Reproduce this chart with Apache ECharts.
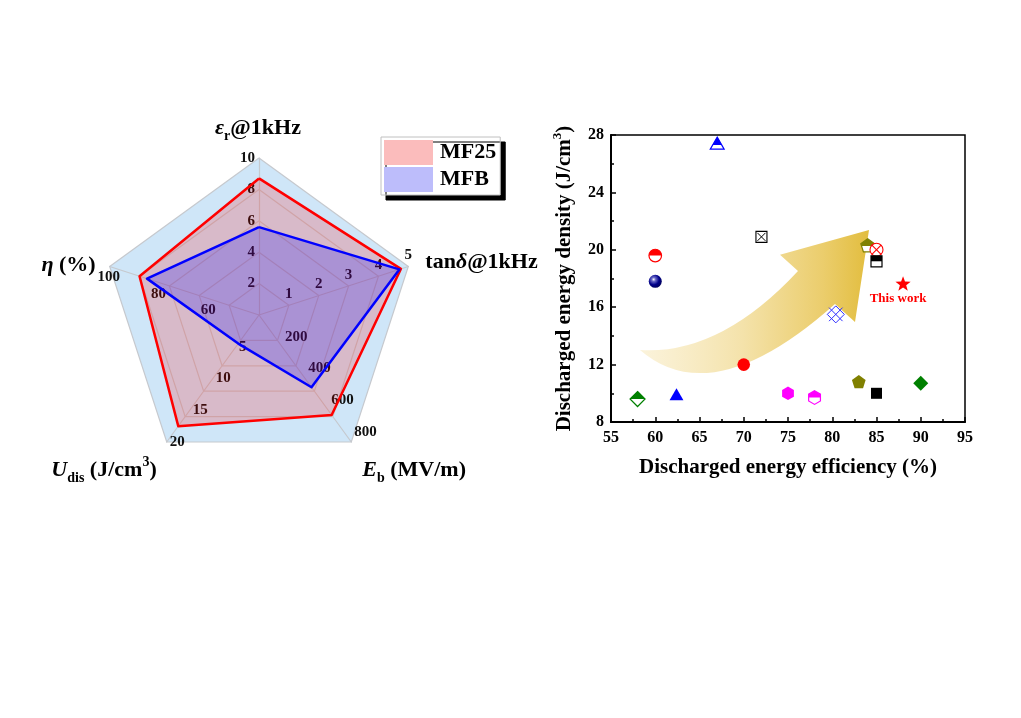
<!DOCTYPE html>
<html>
<head>
<meta charset="utf-8">
<script src="https://cdn.jsdelivr.net/npm/echarts@6/dist/echarts.min.js"></script>
<style>html,body{margin:0;padding:0;background:#fff}#c{width:1021px;height:718px}</style>
</head>
<body>
<div id="c"></div>
<script>
// ===================== DATA =====================
// Radar chart (indicators listed counter-clockwise from the top)
const radarIndicatorNames = ['εr@1kHz', 'η (%)', 'Udis (J/cm3)', 'Eb (MV/m)', 'tanδ@1kHz'];
const radarMin = [0, 40, 0, 0, 0];
const radarMax = [10, 100, 20, 800, 5];
const radarTickLabels = [
  [2, 4, 6, 8, 10],
  [60, 80, 100],
  [5, 10, 15, 20],
  [200, 400, 600, 800],
  [1, 2, 3, 4, 5]
];
const radarSeriesNames = ['MF25', 'MFB'];
const mf25Values = [8.7, 88, 17.5, 630, 4.75];
const mfbValues = [5.6, 85, 4.5, 455, 4.7];

// Scatter chart
const efficiency = [67, 72, 60, 60, 70, 58, 62.4, 75, 78, 83, 85, 90, 80.4, 84, 85, 85, 88];
const density = [27.4, 20.9, 19.6, 17.8, 12.0, 9.6, 9.9, 10.0, 9.7, 10.8, 10.0, 10.7, 15.5, 20.3, 20.0, 19.2, 17.6];
const pointLabels = ['', '', '', '', '', '', '', '', '', '', '', '', '', '', '', '', 'This work'];
const xAxisRange = [55, 95, 5];
const yAxisRange = [8, 28, 4];

// ===================== STYLES / LAYOUT =====================
const FONT = '"Liberation Serif","Times New Roman",serif';
const markerStyles = [
  {shape: 'halfTriangle', color: '#0000ff'},
  {shape: 'squareX', color: '#000000'},
  {shape: 'halfCircle', color: '#ff0000'},
  {shape: 'sphere', color: '#000080'},
  {shape: 'circle', color: '#ff0000'},
  {shape: 'halfDiamond', color: '#008000'},
  {shape: 'triangle', color: '#0000ff'},
  {shape: 'hexagon', color: '#ff00ff'},
  {shape: 'halfHexagon', color: '#ff00ff'},
  {shape: 'pentagon', color: '#808000'},
  {shape: 'square', color: '#000000'},
  {shape: 'diamond', color: '#008000'},
  {shape: 'hatchDiamond', color: '#3030ff'},
  {shape: 'halfPentagon', color: '#808000'},
  {shape: 'circleX', color: '#ff0000'},
  {shape: 'halfSquare', color: '#000000'},
  {shape: 'star', color: '#ff0000'}
];
// decorative arrow outline, in data units of the scatter axes
const arrowOutline = {
  tail: [58.28, 13.02], upperCtrl: [67.32, 12.67], notch: [76.13, 18.53],
  barb1: [74.10, 19.65], tip: [84.15, 21.39], barb2: [82.57, 14.97],
  join: [80.31, 16.23], lowerCtrl: [66.47, 8.62]
};

const RC = [259, 315];   // radar center
const RR = 157;          // radar radius
const tickLabelOffset = [
  {dx: -4, dy: 0, align: 'right'},
  {dx: -1, dy: 11, align: 'center'},
  {dx: 3, dy: 0, align: 'left'},
  {dx: 3, dy: -10, align: 'left'},
  {dx: 0, dy: -11, align: 'center'}
];
const nameLayout = [
  {dx: -1, dy: -30, align: 'center', text: '{i|ε}{sub|r}{b|@1kHz}'},
  {dx: -14, dy: -1, align: 'right', text: '{i|η}{b| (%)}'},
  {dx: -10, dy: 28, align: 'right', text: '{i|U}{sub|dis}{b| (J/cm}{sup|3}{b|)}'},
  {dx: 11, dy: 28, align: 'left', text: '{i|E}{sub|b}{b| (MV/m)}'},
  {dx: 17, dy: -4, align: 'left', text: '{b|tan}{i|δ}{b|@1kHz}'}
];
const nameRich = {
  b: {fontSize: 22, fontWeight: 'bold', fontFamily: FONT, fill: '#000', lineHeight: 30, verticalAlign: 'middle'},
  i: {fontSize: 22, fontWeight: 'bold', fontStyle: 'italic', fontFamily: FONT, fill: '#000', lineHeight: 30, verticalAlign: 'middle'},
  sub: {fontSize: 14, fontWeight: 'bold', fontFamily: FONT, fill: '#000', lineHeight: 14, verticalAlign: 'bottom'},
  sup: {fontSize: 14, fontWeight: 'bold', fontFamily: FONT, fill: '#000', lineHeight: 14, verticalAlign: 'top'}
};

function radarPoint(i, v) {
  const frac = (v - radarMin[i]) / (radarMax[i] - radarMin[i]);
  const a = (90 + 72 * i) * Math.PI / 180;
  return [RC[0] + RR * frac * Math.cos(a), RC[1] - RR * frac * Math.sin(a)];
}

const graphics = [];
radarTickLabels.forEach(function (ticks, i) {
  const o = tickLabelOffset[i];
  ticks.forEach(function (v) {
    const p = radarPoint(i, v);
    graphics.push({
      type: 'text', z: 1, x: p[0] + o.dx, y: p[1] + o.dy, silent: true,
      style: {text: String(v), fontSize: 15, fontWeight: 'bold', fontFamily: FONT, fill: '#111',
              align: o.align, verticalAlign: 'middle'}
    });
  });
});
nameLayout.forEach(function (n, i) {
  const p = radarPoint(i, radarMax[i]);
  graphics.push({
    type: 'text', z: 5, x: p[0] + n.dx, y: p[1] + n.dy, silent: true,
    style: {text: n.text, rich: nameRich, align: n.align, verticalAlign: 'middle'}
  });
});

// ===================== MARKER DRAWING =====================
function regularPoly(cx, cy, r, n) {
  const pts = [];
  for (let k = 0; k < n; k++) {
    const a = -Math.PI / 2 + 2 * Math.PI * k / n;
    pts.push([cx + r * Math.cos(a), cy + r * Math.sin(a)]);
  }
  return pts;
}
function starPoly(cx, cy, r, r2) {
  const pts = [];
  for (let k = 0; k < 10; k++) {
    const a = -Math.PI / 2 + Math.PI * k / 5;
    const rr = k % 2 === 0 ? r : r2;
    pts.push([cx + rr * Math.cos(a), cy + rr * Math.sin(a)]);
  }
  return pts;
}
function clipTop(pts, yc) {
  const out = [];
  for (let i = 0; i < pts.length; i++) {
    const a = pts[i], b = pts[(i + 1) % pts.length];
    const ain = a[1] <= yc, bin = b[1] <= yc;
    if (ain) out.push(a);
    if (ain !== bin) {
      const t = (yc - a[1]) / (b[1] - a[1]);
      out.push([a[0] + t * (b[0] - a[0]), yc]);
    }
  }
  return out;
}
function squarePts(cx, cy, h) {
  return [[cx - h, cy - h], [cx + h, cy - h], [cx + h, cy + h], [cx - h, cy + h]];
}
// returns [points, centre y used for the half fill]
function polyShape(shape, x, y) {
  switch (shape) {
    case 'triangle': case 'halfTriangle': return [regularPoly(x, y + 1.5, 8, 3), y + 1.5];
    case 'diamond': case 'halfDiamond': return [regularPoly(x, y, 7.5, 4), y];
    case 'hexagon': case 'halfHexagon': return [regularPoly(x, y, 6.8, 6), y];
    case 'pentagon': case 'halfPentagon': return [regularPoly(x, y + 0.5, 7.2, 5), y + 0.5];
    case 'square': case 'halfSquare': return [squarePts(x, y, 5.5), y];
  }
  return null;
}
function drawMarker(m, x, y) {
  const c = m.color;
  const out = [];
  const s = m.shape;
  if (s === 'circle') {
    out.push({type: 'circle', shape: {cx: x, cy: y, r: 6.3}, style: {fill: c}});
  } else if (s === 'halfCircle') {
    out.push({type: 'circle', shape: {cx: x, cy: y, r: 6.3}, style: {fill: '#fff', stroke: c, lineWidth: 1.2}});
    out.push({type: 'sector', shape: {cx: x, cy: y, r0: 0, r: 6.3, startAngle: Math.PI, endAngle: 2 * Math.PI}, style: {fill: c}});
  } else if (s === 'sphere') {
    out.push({type: 'circle', shape: {cx: x, cy: y, r: 6.5}, style: {
      fill: {type: 'radial', x: 0.38, y: 0.35, r: 0.75, colorStops: [
        {offset: 0, color: '#ffffff'}, {offset: 0.2, color: '#6a6ac8'}, {offset: 0.55, color: '#00008a'}, {offset: 1, color: '#000050'}]}}});
  } else if (s === 'circleX') {
    const r = 6.5, d = r * Math.SQRT1_2;
    out.push({type: 'circle', shape: {cx: x, cy: y, r: r}, style: {fill: '#fff', stroke: c, lineWidth: 1.1}});
    out.push({type: 'line', shape: {x1: x - d, y1: y - d, x2: x + d, y2: y + d}, style: {stroke: c, lineWidth: 1.1}});
    out.push({type: 'line', shape: {x1: x - d, y1: y + d, x2: x + d, y2: y - d}, style: {stroke: c, lineWidth: 1.1}});
  } else if (s === 'squareX') {
    const h = 5.5;
    out.push({type: 'polygon', shape: {points: squarePts(x, y, h)}, style: {fill: '#fff', stroke: c, lineWidth: 1.1}});
    out.push({type: 'line', shape: {x1: x - h + 1.5, y1: y - h + 1.5, x2: x + h - 1.5, y2: y + h - 1.5}, style: {stroke: c, lineWidth: 1}});
    out.push({type: 'line', shape: {x1: x - h + 1.5, y1: y + h - 1.5, x2: x + h - 1.5, y2: y - h + 1.5}, style: {stroke: c, lineWidth: 1}});
  } else if (s === 'hatchDiamond') {
    const R = 8.5, e = 2.5;
    out.push({type: 'polygon', shape: {points: regularPoly(x, y, R, 4)}, style: {fill: 'rgba(255,255,255,0.6)', stroke: c, lineWidth: 1}});
    const m1 = [[x - R / 2 - e, y - R / 2 - e], [x + R / 2 + e, y + R / 2 + e]];
    const m2 = [[x + R / 2 + e, y - R / 2 - e], [x - R / 2 - e, y + R / 2 + e]];
    out.push({type: 'line', shape: {x1: m1[0][0], y1: m1[0][1], x2: m1[1][0], y2: m1[1][1]}, style: {stroke: c, lineWidth: 1}});
    out.push({type: 'line', shape: {x1: m2[0][0], y1: m2[0][1], x2: m2[1][0], y2: m2[1][1]}, style: {stroke: c, lineWidth: 1}});
  } else if (s === 'star') {
    out.push({type: 'polygon', shape: {points: starPoly(x, y, 8, 3.3)}, style: {fill: c}});
  } else {
    const ps = polyShape(s, x, y);
    const pts = ps[0];
    if (s.indexOf('half') === 0) {
      out.push({type: 'polygon', shape: {points: pts}, style: {fill: '#fff', stroke: c, lineWidth: 1.2}});
      out.push({type: 'polygon', shape: {points: clipTop(pts, ps[1])}, style: {fill: c}});
    } else {
      out.push({type: 'polygon', shape: {points: pts}, style: {fill: c}});
    }
  }
  return out;
}

function markerRender(params, api) {
  const p = api.coord([api.value(0), api.value(1)]);
  const children = drawMarker(markerStyles[params.dataIndex], p[0], p[1]);
  const lbl = pointLabels[params.dataIndex];
  if (lbl) {
    children.push({type: 'text', x: p[0] - 5, y: p[1] + 14, style: {
      text: lbl, fill: '#ff0000', fontSize: 13, fontWeight: 'bold', fontFamily: FONT,
      align: 'center', verticalAlign: 'middle'}});
  }
  return {type: 'group', children: children};
}

function arrowRender(params, api) {
  const P = {};
  Object.keys(arrowOutline).forEach(function (k) { P[k] = api.coord(arrowOutline[k]); });
  const f = function (p) { return p[0].toFixed(1) + ' ' + p[1].toFixed(1); };
  const d = 'M ' + f(P.tail) + ' Q ' + f(P.upperCtrl) + ' ' + f(P.notch) +
    ' L ' + f(P.barb1) + ' L ' + f(P.tip) + ' L ' + f(P.barb2) + ' L ' + f(P.join) +
    ' Q ' + f(P.lowerCtrl) + ' ' + f(P.tail) + ' Z';
  return {type: 'path', shape: {pathData: d}, style: {
    fill: {type: 'linear', x: 0, y: 0, x2: 1, y2: 0, colorStops: [
      {offset: 0, color: 'rgba(250,240,210,0.8)'},
      {offset: 0.45, color: '#f4e2aa'},
      {offset: 0.8, color: '#ebcd6c'},
      {offset: 1, color: '#e2bd3e'}]}}};
}

// ===================== CHART =====================
const chart = echarts.init(document.getElementById('c'));
const axisLabelStyle = {fontSize: 16, fontWeight: 'bold', fontFamily: FONT, color: '#000'};
const axisNameRich = {
  b: {fontSize: 21, fontWeight: 'bold', fontFamily: FONT, color: '#000', lineHeight: 28, verticalAlign: 'middle'},
  sup: {fontSize: 13, fontWeight: 'bold', fontFamily: FONT, color: '#000', lineHeight: 13, verticalAlign: 'top'}
};

chart.setOption({
  animation: false,
  backgroundColor: '#fff',
  graphic: graphics,
  legend: {
    data: [
      {name: radarSeriesNames[0], icon: 'rect', itemStyle: {color: '#fbbcbc', borderWidth: 0}},
      {name: radarSeriesNames[1], icon: 'rect', itemStyle: {color: '#bdbdfb', borderWidth: 0}}
    ],
    orient: 'vertical', left: 381, top: 137,
    itemWidth: 49, itemHeight: 25, itemGap: 2, padding: [3, 4, 3, 3],
    selectedMode: false,
    textStyle: {fontSize: 22, fontWeight: 'bold', fontFamily: FONT, color: '#000', padding: [0, 0, 0, 2]},
    backgroundColor: '#fff', borderColor: '#c0c0c0', borderWidth: 1,
    shadowColor: '#000', shadowOffsetX: 5, shadowOffsetY: 5, shadowBlur: 0
  },
  radar: {
    center: RC, radius: RR, startAngle: 90, shape: 'polygon', splitNumber: 5,
    indicator: radarIndicatorNames.map(function (n, i) { return {name: n, min: radarMin[i], max: radarMax[i]}; }),
    axisName: {show: false},
    splitArea: {show: true, areaStyle: {color: ['#cfe6f8']}},
    splitLine: {lineStyle: {color: '#c6c9ce', width: 1.2}},
    axisLine: {lineStyle: {color: '#c6c9ce', width: 1.2}}
  },
  grid: {left: 611, top: 135, width: 354, height: 287, show: true, borderColor: '#000', borderWidth: 1.5},
  xAxis: {
    type: 'value', min: xAxisRange[0], max: xAxisRange[1], interval: xAxisRange[2],
    axisLine: {lineStyle: {color: '#000', width: 2}},
    axisTick: {inside: true, length: 5, lineStyle: {color: '#000', width: 1.5}},
    minorTick: {show: true, splitNumber: 2, length: 3, lineStyle: {color: '#000', width: 1.5}},
    splitLine: {show: false},
    axisLabel: Object.assign({margin: 8}, axisLabelStyle),
    name: '{b|Discharged energy efficiency (%)}', nameLocation: 'middle', nameGap: 32,
    nameTextStyle: {rich: axisNameRich}
  },
  yAxis: {
    type: 'value', min: yAxisRange[0], max: yAxisRange[1], interval: yAxisRange[2],
    axisLine: {show: true, lineStyle: {color: '#000', width: 2}},
    axisTick: {show: true, inside: true, length: 5, lineStyle: {color: '#000', width: 1.5}},
    minorTick: {show: true, splitNumber: 2, length: 3, lineStyle: {color: '#000', width: 1.5}},
    splitLine: {show: false},
    axisLabel: Object.assign({margin: 7}, axisLabelStyle),
    name: '{b|Discharged energy density (J/cm}{sup|3}{b|)}', nameLocation: 'middle', nameGap: 32,
    nameRotate: 90,
    nameTextStyle: {rich: axisNameRich}
  },
  series: [
    {
      type: 'radar', radarIndex: 0, z: 2, symbol: 'none', silent: true,
      data: [
        {name: radarSeriesNames[0], value: mf25Values, itemStyle: {color: '#ff0000'},
         lineStyle: {color: '#ff0000', width: 2.5}, areaStyle: {color: 'rgba(255,0,0,0.27)'}},
        {name: radarSeriesNames[1], value: mfbValues, itemStyle: {color: '#0000ff'},
         lineStyle: {color: '#0000ff', width: 2.5}, areaStyle: {color: 'rgba(0,0,255,0.30)'}}
      ]
    },
    {
      type: 'custom', name: 'arrow', z: 1, silent: true, clip: false,
      data: [[xAxisRange[0], yAxisRange[0]]],
      renderItem: arrowRender
    },
    {
      type: 'custom', name: 'works', z: 3, silent: true, clip: false,
      data: efficiency.map(function (e, i) { return [e, density[i]]; }),
      renderItem: markerRender
    }
  ]
});
</script>
</body>
</html>
